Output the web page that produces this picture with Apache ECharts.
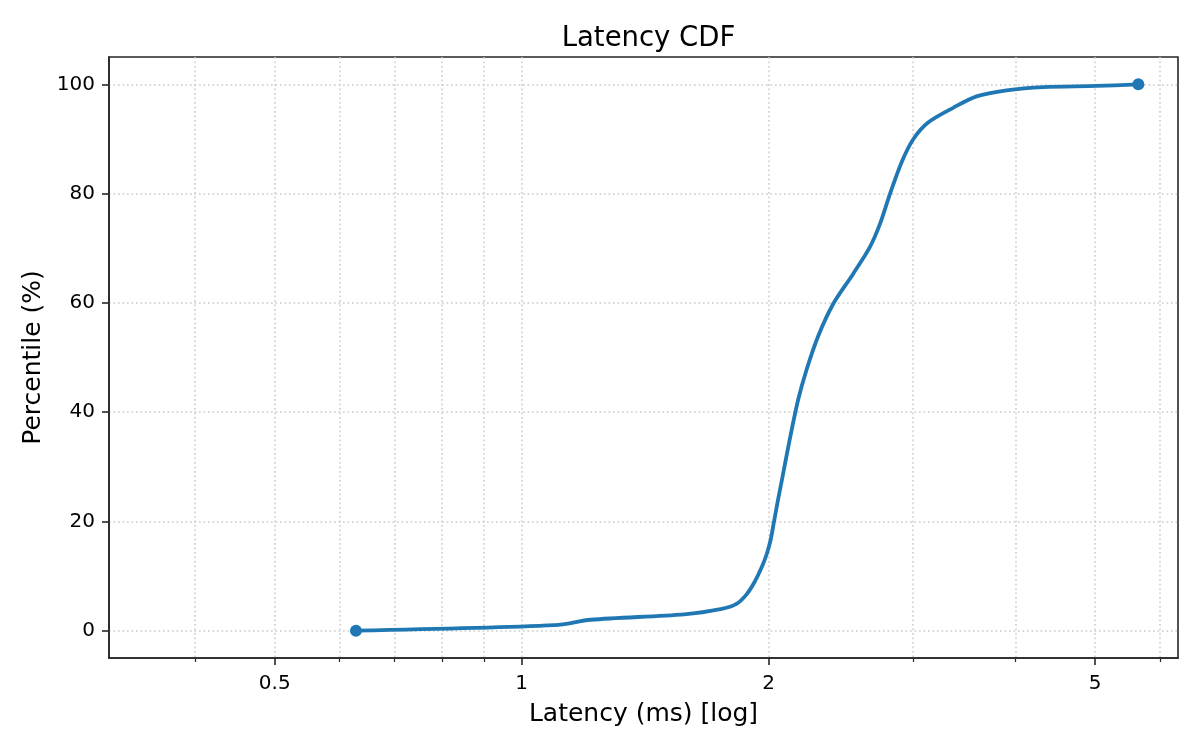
<!DOCTYPE html>
<html>
<head>
<meta charset="utf-8">
<script src="https://cdn.jsdelivr.net/npm/echarts@6/dist/echarts.min.js"></script>
<style>
html, body { margin: 0; padding: 0; background: #ffffff; }
#chart { width: 1200px; height: 750px; }
</style>
</head>
<body>
<div id="chart"></div>
<script>
// ---- data ----
const latencyMs = [0.628, 1.098, 1.214, 1.578, 1.754, 1.827, 1.879, 1.924, 1.960, 1.988, 2.011, 2.030, 2.053, 2.076, 2.122, 2.173, 2.225, 2.298, 2.397, 2.535, 2.657, 2.733, 2.811, 2.904, 3.000, 3.129, 3.357, 3.585, 3.900, 4.323, 5.020, 5.645];
const percentile = [0, 1, 2, 3, 4, 4.9, 6.6, 9.0, 11.5, 13.9, 16.6, 19.9, 23.9, 27.6, 35, 42.3, 47.8, 53.9, 59.8, 65.3, 70.2, 74.4, 79.9, 85.7, 89.9, 93.0, 95.7, 97.8, 98.9, 99.5, 99.7, 100];
const xMajorTicks = [0.5, 1, 2, 5];
const xMinorTicks = [0.4, 0.6, 0.7, 0.8, 0.9, 3, 4, 6];
const yTicks = [0, 20, 40, 60, 80, 100];
const xLimits = [0.314, 6.31];
const yLimits = [-5, 105];

const lg = Math.log10;
const lineData = latencyMs.map((v, i) => [lg(v), percentile[i]]);
const endPoints = [lineData[0], lineData[lineData.length - 1]];

const FONT = 'DejaVu Sans';
const INK = '#000000';
const SPINE = '#262626';
const gridLineStyle = { color: '#cccccc', width: 1.5, type: [1.7, 2.8] };

const chart = echarts.init(document.getElementById('chart'), null, { renderer: 'canvas' });

const option = {
  backgroundColor: '#ffffff',
  animation: false,
  title: {
    text: 'Latency CDF',
    left: 643.5,
    top: 20,
    textAlign: 'center',
    textStyle: { fontFamily: FONT, fontSize: 27.5, fontWeight: 'normal', color: INK }
  },
  grid: {
    left: 109, right: 22, top: 57, bottom: 92,
    show: true, borderColor: SPINE, borderWidth: 1.6, backgroundColor: 'transparent'
  },
  xAxis: [
    {
      type: 'value',
      min: lg(xLimits[0]),
      max: lg(xLimits[1]),
      position: 'bottom',
      name: 'Latency (ms) [log]',
      nameLocation: 'middle',
      nameGap: 44,
      nameTextStyle: { fontFamily: FONT, fontSize: 25, color: INK },
      axisLine: { show: true, onZero: false, lineStyle: { color: SPINE, width: 1.6 } },
      axisTick: { show: true, length: 7, customValues: xMajorTicks.map(lg), lineStyle: { color: SPINE, width: 1.6 } },
      axisLabel: {
        show: true, margin: 16, customValues: xMajorTicks.map(lg),
        fontFamily: FONT, fontSize: 20, color: INK,
        formatter: v => String(+Math.pow(10, v).toPrecision(3))
      },
      splitLine: { show: true, lineStyle: gridLineStyle }
    },
    {
      type: 'value',
      min: lg(xLimits[0]),
      max: lg(xLimits[1]),
      position: 'bottom',
      axisLine: { show: false, onZero: false },
      axisTick: { show: true, length: 4, customValues: xMinorTicks.map(lg), lineStyle: { color: SPINE, width: 1.2 } },
      axisLabel: { show: false },
      splitLine: { show: true, lineStyle: gridLineStyle }
    }
  ],
  yAxis: {
    type: 'value',
    min: yLimits[0],
    max: yLimits[1],
    name: 'Percentile (%)',
    nameLocation: 'middle',
    nameGap: 63,
    nameTextStyle: { fontFamily: FONT, fontSize: 25, color: INK },
    axisLine: { show: true, onZero: false, lineStyle: { color: SPINE, width: 1.6 } },
    axisTick: { show: true, length: 7, customValues: yTicks, lineStyle: { color: SPINE, width: 1.6 } },
    axisLabel: { show: true, margin: 14, customValues: yTicks, fontFamily: FONT, fontSize: 20, color: INK },
    splitLine: { show: true, lineStyle: gridLineStyle }
  },
  series: [
    {
      type: 'line',
      xAxisIndex: 0,
      data: lineData,
      showSymbol: false,
      smooth: 0.3,
      lineStyle: { color: '#1f77b4', width: 3.8, cap: 'round', join: 'round' },
      z: 3
    },
    {
      type: 'scatter',
      xAxisIndex: 0,
      data: endPoints,
      symbol: 'circle',
      symbolSize: 12,
      itemStyle: { color: '#1f77b4', opacity: 1 },
      z: 4
    }
  ]
};
chart.setOption(option);
</script>
</body>
</html>
